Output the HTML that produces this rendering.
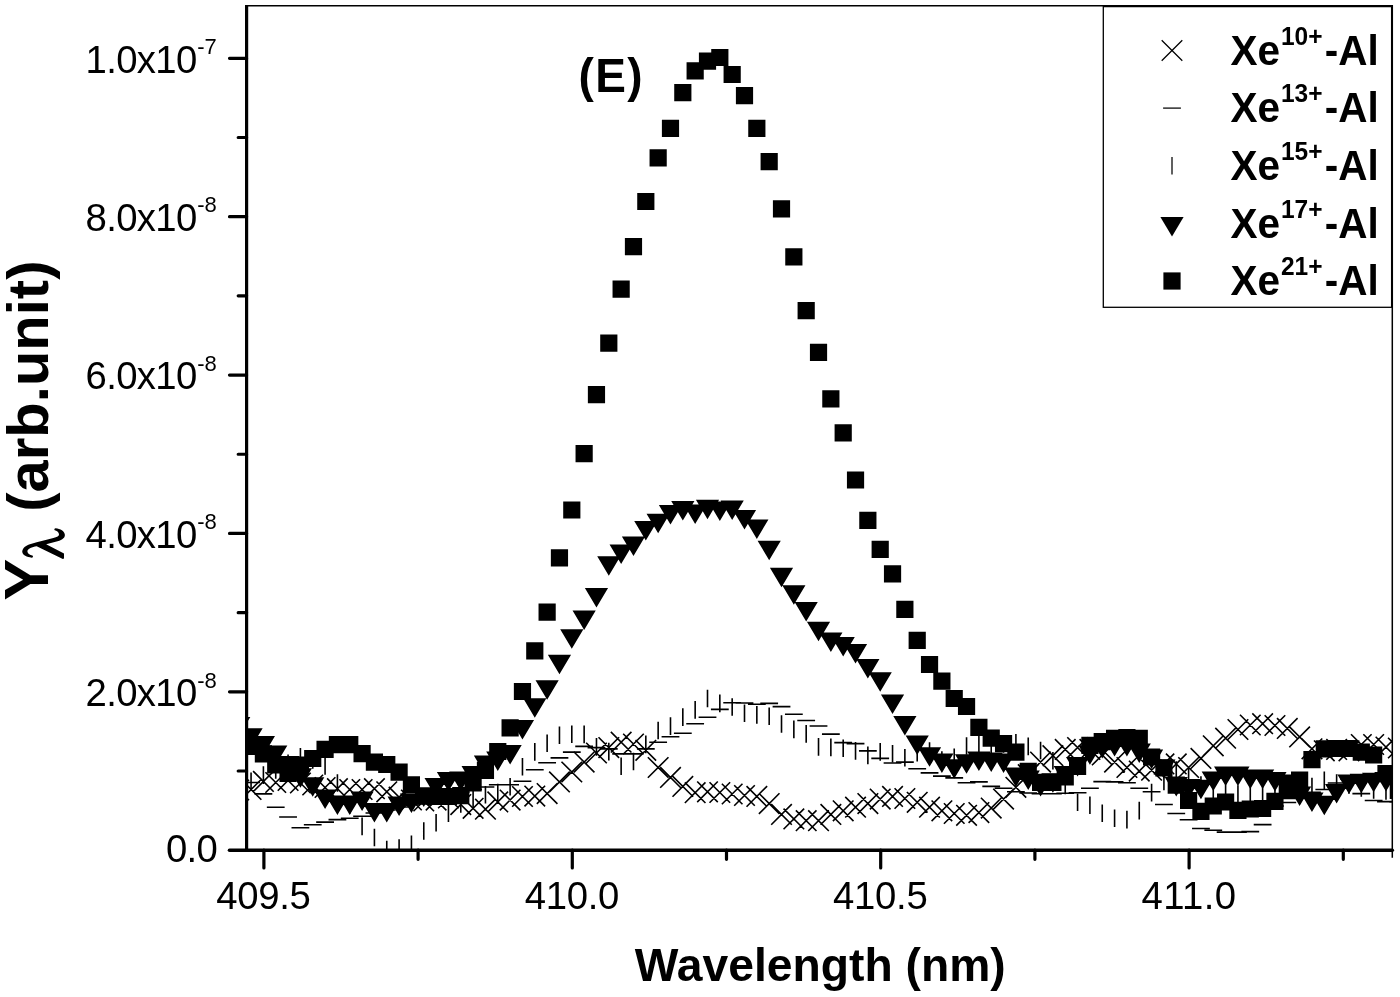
<!DOCTYPE html>
<html><head><meta charset="utf-8"><title>Chart</title>
<style>
html,body{margin:0;padding:0;background:#fff;}
svg{display:block;will-change:transform;}
text{font-family:"Liberation Sans",sans-serif;fill:#000;}
.b{font-weight:bold;}
</style></head><body>
<svg width="1400" height="997" viewBox="0 0 1400 997">
<rect width="1400" height="997" fill="#fff"/>
<defs><clipPath id="cp"><rect x="245.6" y="5.8" width="1147.2" height="844.4"/></clipPath></defs>

<g clip-path="url(#cp)">
<path d="M228.43 779.7L249.03 800.3M228.43 800.3L249.03 779.7M240.76 779.2L261.36 799.8M240.76 799.8L261.36 779.2M253.1 771.1L273.7 791.7M253.1 791.7L273.7 771.1M265.44 772.2L286.04 792.8M265.44 792.8L286.04 772.2M277.77 770.1L298.37 790.7M277.77 790.7L298.37 770.1M290.11 772.7L310.71 793.3M290.11 793.3L310.71 772.7M302.44 774.7L323.04 795.3M302.44 795.3L323.04 774.7M314.78 777.2L335.38 797.8M314.78 797.8L335.38 777.2M327.12 778.4L347.72 799M327.12 799L347.72 778.4M339.45 779.2L360.05 799.8M339.45 799.8L360.05 779.2M351.79 779.2L372.39 799.8M351.79 799.8L372.39 779.2M364.12 778.4L384.72 799M364.12 799L384.72 778.4M376.46 781.5L397.06 802.1M376.46 802.1L397.06 781.5M388.8 786.9L409.4 807.5M388.8 807.5L409.4 786.9M401.13 789.7L421.73 810.3M401.13 810.3L421.73 789.7M413.47 790.7L434.07 811.3M413.47 811.3L434.07 790.7M425.8 789.8L446.4 810.4M425.8 810.4L446.4 789.8M438.14 787.7L458.74 808.3M438.14 808.3L458.74 787.7M450.48 794.3L471.08 814.9M450.48 814.9L471.08 794.3M462.81 798L483.41 818.6M462.81 818.6L483.41 798M475.15 798.9L495.75 819.5M475.15 819.5L495.75 798.9M487.48 791.6L508.08 812.2M487.48 812.2L508.08 791.6M499.82 789.8L520.42 810.4M499.82 810.4L520.42 789.8M512.16 786.2L532.76 806.8M512.16 806.8L532.76 786.2M524.49 785.8L545.09 806.4M524.49 806.4L545.09 785.8M536.83 783.3L557.43 803.9M536.83 803.9L557.43 783.3M549.16 771.6L569.76 792.2M549.16 792.2L569.76 771.6M561.5 761.7L582.1 782.3M561.5 782.3L582.1 761.7M573.84 751.8L594.44 772.4M573.84 772.4L594.44 751.8M586.17 742.7L606.77 763.3M586.17 763.3L606.77 742.7M598.51 737.3L619.11 757.9M598.51 757.9L619.11 737.3M610.84 731.9L631.44 752.5M610.84 752.5L631.44 731.9M623.18 733.7L643.78 754.3M623.18 754.3L643.78 733.7M635.52 740L656.12 760.6M635.52 760.6L656.12 740M647.85 757.2L668.45 777.8M647.85 777.8L668.45 757.2M660.19 767.1L680.79 787.7M660.19 787.7L680.79 767.1M672.52 776.1L693.12 796.7M672.52 796.7L693.12 776.1M684.86 782.4L705.46 803M684.86 803L705.46 782.4M697.2 781.5L717.8 802.1M697.2 802.1L717.8 781.5M709.53 782.2L730.13 802.8M709.53 802.8L730.13 782.2M721.87 783.7L742.47 804.3M721.87 804.3L742.47 783.7M734.2 785.2L754.8 805.8M734.2 805.8L754.8 785.2M746.54 786.1L767.14 806.7M746.54 806.7L767.14 786.1M758.88 793.3L779.48 813.9M758.88 813.9L779.48 793.3M771.21 804.1L791.81 824.7M771.21 824.7L791.81 804.1M783.55 808.6L804.15 829.2M783.55 829.2L804.15 808.6M795.88 810.4L816.48 831M795.88 831L816.48 810.4M808.22 810.4L828.82 831M808.22 831L828.82 810.4M820.56 804.1L841.16 824.7M820.56 824.7L841.16 804.1M832.89 800.5L853.49 821.1M832.89 821.1L853.49 800.5M845.23 796.9L865.83 817.5M845.23 817.5L865.83 796.9M857.56 793.3L878.16 813.9M857.56 813.9L878.16 793.3M869.9 788.8L890.5 809.4M869.9 809.4L890.5 788.8M882.24 786.1L902.84 806.7M882.24 806.7L902.84 786.1M894.57 788.2L915.17 808.8M894.57 808.8L915.17 788.2M906.91 792L927.51 812.6M906.91 812.6L927.51 792M919.24 796.9L939.84 817.5M919.24 817.5L939.84 796.9M931.58 800.5L952.18 821.1M931.58 821.1L952.18 800.5M943.92 803.2L964.52 823.8M943.92 823.8L964.52 803.2M956.25 805L976.85 825.6M956.25 825.6L976.85 805M968.59 802.3L989.19 822.9M968.59 822.9L989.19 802.3M980.92 797.8L1001.52 818.4M980.92 818.4L1001.52 797.8M993.26 788.8L1013.86 809.4M993.26 809.4L1013.86 788.8M1005.6 777L1026.2 797.6M1005.6 797.6L1026.2 777M1017.93 764.4L1038.53 785M1017.93 785L1038.53 764.4M1030.27 751.8L1050.87 772.4M1030.27 772.4L1050.87 751.8M1042.6 745.4L1063.2 766M1042.6 766L1063.2 745.4M1054.94 739.1L1075.54 759.7M1054.94 759.7L1075.54 739.1M1067.28 737.3L1087.88 757.9M1067.28 757.9L1087.88 737.3M1079.61 739.1L1100.21 759.7M1079.61 759.7L1100.21 739.1M1091.95 744.7L1112.55 765.3M1091.95 765.3L1112.55 744.7M1104.28 751.8L1124.88 772.4M1104.28 772.4L1124.88 751.8M1116.62 757.2L1137.22 777.8M1116.62 777.8L1137.22 757.2M1128.96 760.8L1149.56 781.4M1128.96 781.4L1149.56 760.8M1141.29 759.9L1161.89 780.5M1141.29 780.5L1161.89 759.9M1153.63 753.6L1174.23 774.2M1153.63 774.2L1174.23 753.6M1165.96 753.6L1186.56 774.2M1165.96 774.2L1186.56 753.6M1178.3 757.2L1198.9 777.8M1178.3 777.8L1198.9 757.2M1190.64 748.1L1211.24 768.7M1190.64 768.7L1211.24 748.1M1202.97 735.5L1223.57 756.1M1202.97 756.1L1223.57 735.5M1215.31 727.9L1235.91 748.5M1215.31 748.5L1235.91 727.9M1227.64 719.2L1248.24 739.8M1227.64 739.8L1248.24 719.2M1239.98 714.7L1260.58 735.3M1239.98 735.3L1260.58 714.7M1252.32 713.4L1272.92 734M1252.32 734L1272.92 713.4M1264.65 715.2L1285.25 735.8M1264.65 735.8L1285.25 715.2M1276.99 718.1L1297.59 738.7M1276.99 738.7L1297.59 718.1M1289.32 726.6L1309.92 747.2M1289.32 747.2L1309.92 726.6M1301.66 738.5L1322.26 759.1M1301.66 759.1L1322.26 738.5M1314 740.5L1334.6 761.1M1314 761.1L1334.6 740.5M1326.33 739.1L1346.93 759.7M1326.33 759.7L1346.93 739.1M1338.67 740.5L1359.27 761.1M1338.67 761.1L1359.27 740.5M1351 734.2L1371.6 754.8M1351 754.8L1371.6 734.2M1363.34 734.2L1383.94 754.8M1363.34 754.8L1383.94 734.2M1375.68 736.8L1396.28 757.4M1375.68 757.4L1396.28 736.8M1388.01 737.7L1408.61 758.3M1388.01 758.3L1408.61 737.7" stroke="#000" stroke-width="1.6" fill="none"/>
<path d="M229.83 772H247.63M242.16 782.5H259.96M254.5 793.9H272.3M266.84 807.3H284.64M279.17 817H296.97M291.51 827.8H309.31M303.84 824.7H321.64M316.18 822.1H333.98M328.52 819.6H346.32M340.85 818.2H358.65M353.19 816.2H370.99M365.52 813H383.32M377.86 810H395.66M390.2 807H408M402.53 804H420.33M414.87 801H432.67M427.2 798H445M439.54 795H457.34M451.88 792H469.68M464.21 789.5H482.01M476.55 787H494.35M488.88 784.8H506.68M501.22 784.8H519.02M513.56 781.2H531.36M525.89 769.7H543.69M538.23 762.8H556.03M550.56 757.9H568.36M562.9 752.1H580.7M575.24 746.4H593.04M587.57 747.6H605.37M599.91 748.9H617.71M612.24 753.9H630.04M624.58 753.9H642.38M636.92 748.9H654.72M649.25 742.2H667.05M661.59 736.8H679.39M673.92 733.2H691.72M686.26 723.8H704.06M698.6 717.3H716.4M710.93 709.4H728.73M723.27 702.7H741.07M735.6 703H753.4M747.94 704.3H765.74M760.28 703.4H778.08M772.61 706.6H790.41M784.95 714.2H802.75M797.28 720.5H815.08M809.62 726H827.42M821.96 734.1H839.76M834.29 742.6H852.09M846.63 743.6H864.43M858.96 750.9H876.76M871.3 758.4H889.1M883.64 763H901.44M895.97 762.1H913.77M908.31 768.7H926.11M920.64 772.9H938.44M932.98 776.1H950.78M945.32 777.9H963.12M957.65 782.8H975.45M969.99 781.9H987.79M982.32 786.4H1000.12M994.66 788.2H1012.46M1007 791.8H1024.8M1019.33 793H1037.13M1031.67 793.7H1049.47M1044 793.7H1061.8M1056.34 793.3H1074.14M1068.68 792.7H1086.48M1081.01 788.2H1098.81M1093.35 781.6H1111.15M1105.68 781.9H1123.48M1118.02 782.8H1135.82M1130.36 788.2H1148.16M1142.69 791.8H1160.49M1155.03 804.5H1172.83M1167.36 813.5H1185.16M1179.7 819.8H1197.5M1192.04 828.5H1209.84M1204.37 830.3H1222.17M1216.71 832.1H1234.51M1229.04 832.1H1246.84M1241.38 831.6H1259.18M1253.72 824.6H1271.52M1266.05 806H1283.85M1278.39 802.5H1296.19M1290.72 797H1308.52M1303.06 792.3H1320.86M1315.4 789.5H1333.2M1327.73 783H1345.53M1340.07 779H1357.87M1352.4 793.6H1370.2M1364.74 800.5H1382.54M1377.08 801.6H1394.88M1389.41 802H1407.21" stroke="#000" stroke-width="1.6" fill="none"/>
<path d="M251.06 772.6V790.2M263.4 766.3V783.9M275.74 761.2V778.8M288.07 754.4V772M300.41 748.1V765.7M312.74 751.2V768.8M325.08 757.2V774.8M337.42 774.2V791.8M349.75 796.2V813.8M362.09 817.6V835.2M374.42 828.7V846.3M386.76 840.8V858.4M399.1 839.2V856.8M411.43 835.5V853.1M423.77 822.2V839.8M436.1 813.9V831.5M448.44 804.5V822.1M460.78 795.2V812.8M473.11 791V808.6M485.45 785.9V803.5M497.78 783.8V801.4M510.12 777.9V795.5M522.46 758V775.6M534.79 743.1V760.7M547.13 734.4V752M559.46 726.4V744M571.8 725.5V743.1M584.14 725.6V743.2M596.47 738.1V755.7M608.81 742.8V760.4M621.14 757.4V775M633.48 752.7V770.3M645.82 735.6V753.2M658.15 721.7V739.3M670.49 717.3V734.9M682.82 708.3V725.9M695.16 701.1V718.7M707.5 689.7V707.3M719.83 694.6V712.2M732.17 698.2V715.8M744.5 704.5V722.1M756.84 706.1V723.7M769.18 707.4V725M781.51 715.2V732.8M793.85 720.6V738.2M806.18 725.1V742.7M818.52 738.1V755.7M830.86 738.6V756.2M843.19 739.5V757.1M855.53 742.1V759.7M867.86 746.6V764.2M880.2 743.1V760.7M892.54 745V762.6M904.87 748.9V766.5M917.21 743.9V761.5M929.54 742.2V759.8M941.88 751.2V768.8M954.22 748.4V766M966.55 737.2V754.8M978.89 735.7V753.3M991.22 736.2V753.8M1003.56 735.2V752.8M1015.9 733.9V751.5M1028.23 737.6V755.2M1040.57 741.7V759.3M1052.9 752V769.6M1065.24 776.7V794.3M1077.58 793.5V811.1M1089.91 796.4V814M1102.25 804.5V822.1M1114.58 809.4V827M1126.92 810.8V828.4M1139.26 801.8V819.4M1151.59 783.8V801.4M1163.93 772.6V790.2M1176.26 761.2V778.8M1188.6 767.2V784.8M1200.94 776.2V793.8M1213.27 782.2V799.8M1225.61 784.2V801.8M1237.94 785.2V802.8M1250.28 786.2V803.8M1262.62 786.2V803.8M1274.95 785.2V802.8M1287.29 781.2V798.8M1299.62 779.2V796.8M1311.96 777.7V795.3M1324.3 771.5V789.1M1336.63 774.2V791.8M1348.97 776.2V793.8M1361.3 779.2V796.8M1373.64 781.2V798.8M1385.98 782.2V799.8" stroke="#000" stroke-width="1.6" fill="none"/>
<path d="M227.13 716.9H250.33L238.73 736.4ZM239.46 728.3H262.66L251.06 747.8ZM251.8 735.9H275L263.4 755.4ZM264.14 745.5H287.34L275.74 765ZM276.47 756H299.67L288.07 775.5ZM288.81 768.2H312.01L300.41 787.7ZM301.14 777.3H324.34L312.74 796.8ZM313.48 789.5H336.68L325.08 809ZM325.82 795.4H349.02L337.42 814.9ZM338.15 795.4H361.35L349.75 814.9ZM350.49 791.6H373.69L362.09 811.1ZM362.82 802.9H386.02L374.42 822.4ZM375.16 802.9H398.36L386.76 822.4ZM387.5 796.6H410.7L399.1 816.1ZM399.83 793.6H423.03L411.43 813.1ZM412.17 787.5H435.37L423.77 807ZM424.5 777.9H447.7L436.1 797.4ZM436.84 772.1H460.04L448.44 791.6ZM449.18 771.5H472.38L460.78 791ZM461.51 765.9H484.71L473.11 785.4ZM473.85 755.5H497.05L485.45 775ZM486.18 751.4H509.38L497.78 770.9ZM498.52 745H521.72L510.12 764.5ZM510.86 719.9H534.06L522.46 739.4ZM523.19 698.3H546.39L534.79 717.8ZM535.53 680.2H558.73L547.13 699.7ZM547.86 654.8H571.06L559.46 674.3ZM560.2 629.3H583.4L571.8 648.8ZM572.54 610.5H595.74L584.14 630ZM584.87 588H608.07L596.47 607.5ZM597.21 556.3H620.41L608.81 575.8ZM609.54 544.6H632.74L621.14 564.1ZM621.88 536.6H645.08L633.48 556.1ZM634.22 521.1H657.42L645.82 540.6ZM646.55 513.7H669.75L658.15 533.2ZM658.89 505.1H682.09L670.49 524.6ZM671.22 501.1H694.42L682.82 520.6ZM683.56 504.5H706.76L695.16 524ZM695.9 499.7H719.1L707.5 519.2ZM708.23 501.5H731.43L719.83 521ZM720.57 500.5H743.77L732.17 520ZM732.9 510.1H756.1L744.5 529.6ZM745.24 519.5H768.44L756.84 539ZM757.58 540.8H780.78L769.18 560.3ZM769.91 567.7H793.11L781.51 587.2ZM782.25 585.3H805.45L793.85 604.8ZM794.58 602H817.78L806.18 621.5ZM806.92 621.8H830.12L818.52 641.3ZM819.26 632.5H842.46L830.86 652ZM831.59 637.1H854.79L843.19 656.6ZM843.93 644.1H867.13L855.53 663.6ZM856.26 658.9H879.46L867.86 678.4ZM868.6 672.2H891.8L880.2 691.7ZM880.94 694.4H904.14L892.54 713.9ZM893.27 716H916.47L904.87 735.5ZM905.61 735.6H928.81L917.21 755.1ZM917.94 747.3H941.14L929.54 766.8ZM930.28 753.4H953.48L941.88 772.9ZM942.62 759.2H965.82L954.22 778.7ZM954.95 754.3H978.15L966.55 773.8ZM967.29 751.6H990.49L978.89 771.1ZM979.62 752.5H1002.82L991.22 772ZM991.96 753.4H1015.16L1003.56 772.9ZM1004.3 767.5H1027.5L1015.9 787ZM1016.63 770.5H1039.83L1028.23 790ZM1028.97 776.9H1052.17L1040.57 796.4ZM1041.3 773.2H1064.5L1052.9 792.7ZM1053.64 766H1076.84L1065.24 785.5ZM1065.98 757H1089.18L1077.58 776.5ZM1078.31 745.3H1101.51L1089.91 764.8ZM1090.65 739H1113.85L1102.25 758.5ZM1102.98 737H1126.18L1114.58 756.5ZM1115.32 737H1138.52L1126.92 756.5ZM1127.66 743.5H1150.86L1139.26 763ZM1139.99 749.5H1163.19L1151.59 769ZM1152.33 759.4H1175.53L1163.93 778.9ZM1164.66 777H1187.86L1176.26 796.5ZM1177 778.9H1200.2L1188.6 798.4ZM1189.34 779.8H1212.54L1200.94 799.3ZM1201.67 771.5H1224.87L1213.27 791ZM1214.01 766.6H1237.21L1225.61 786.1ZM1226.34 766.6H1249.54L1237.94 786.1ZM1238.68 769.5H1261.88L1250.28 789ZM1251.02 769.5H1274.22L1262.62 789ZM1263.35 771.9H1286.55L1274.95 791.4ZM1275.69 774.6H1298.89L1287.29 794.1ZM1288.02 786.5H1311.22L1299.62 806ZM1300.36 792.4H1323.56L1311.96 811.9ZM1312.7 795.8H1335.9L1324.3 815.3ZM1325.03 783.9H1348.23L1336.63 803.4ZM1337.37 774.5H1360.57L1348.97 794ZM1349.7 773.7H1372.9L1361.3 793.2ZM1362.04 772.8H1385.24L1373.64 792.3ZM1374.38 772H1397.58L1385.98 791.5ZM1386.71 772H1409.91L1398.31 791.5Z" fill="#000"/>
<path d="M242.46 737.7h17.2v17.2h-17.2ZM254.8 745.3h17.2v17.2h-17.2ZM267.14 756.4h17.2v17.2h-17.2ZM279.47 764.8h17.2v17.2h-17.2ZM291.81 756.5h17.2v17.2h-17.2ZM304.14 749.9h17.2v17.2h-17.2ZM316.48 740.8h17.2v17.2h-17.2ZM328.82 736h17.2v17.2h-17.2ZM341.15 736h17.2v17.2h-17.2ZM353.49 745h17.2v17.2h-17.2ZM365.82 753.5h17.2v17.2h-17.2ZM378.16 755.9h17.2v17.2h-17.2ZM390.5 763.6h17.2v17.2h-17.2ZM402.83 776.2h17.2v17.2h-17.2ZM415.17 787.6h17.2v17.2h-17.2ZM427.5 787.9h17.2v17.2h-17.2ZM439.84 787.9h17.2v17.2h-17.2ZM452.18 787h17.2v17.2h-17.2ZM464.51 774.4h17.2v17.2h-17.2ZM476.85 761.7h17.2v17.2h-17.2ZM489.18 742.9h17.2v17.2h-17.2ZM501.52 719.2h17.2v17.2h-17.2ZM513.86 682.9h17.2v17.2h-17.2ZM526.19 642.2h17.2v17.2h-17.2ZM538.53 603.5h17.2v17.2h-17.2ZM550.86 549.3h17.2v17.2h-17.2ZM563.2 501.4h17.2v17.2h-17.2ZM575.54 445.1h17.2v17.2h-17.2ZM587.87 386.1h17.2v17.2h-17.2ZM600.21 334.5h17.2v17.2h-17.2ZM612.54 280.6h17.2v17.2h-17.2ZM624.88 238h17.2v17.2h-17.2ZM637.22 192.9h17.2v17.2h-17.2ZM649.55 149.2h17.2v17.2h-17.2ZM661.89 119.7h17.2v17.2h-17.2ZM674.22 84h17.2v17.2h-17.2ZM686.56 62.3h17.2v17.2h-17.2ZM698.9 52.5h17.2v17.2h-17.2ZM711.23 48.9h17.2v17.2h-17.2ZM723.57 65.9h17.2v17.2h-17.2ZM735.9 87h17.2v17.2h-17.2ZM748.24 119.7h17.2v17.2h-17.2ZM760.58 153h17.2v17.2h-17.2ZM772.91 200.3h17.2v17.2h-17.2ZM785.25 248.2h17.2v17.2h-17.2ZM797.58 302.1h17.2v17.2h-17.2ZM809.92 343.8h17.2v17.2h-17.2ZM822.26 390.2h17.2v17.2h-17.2ZM834.59 424.3h17.2v17.2h-17.2ZM846.93 471.4h17.2v17.2h-17.2ZM859.26 511.8h17.2v17.2h-17.2ZM871.6 540.7h17.2v17.2h-17.2ZM883.94 565.2h17.2v17.2h-17.2ZM896.27 600.7h17.2v17.2h-17.2ZM908.61 631.8h17.2v17.2h-17.2ZM920.94 655.9h17.2v17.2h-17.2ZM933.28 672.6h17.2v17.2h-17.2ZM945.62 689.9h17.2v17.2h-17.2ZM957.95 697.9h17.2v17.2h-17.2ZM970.29 718.8h17.2v17.2h-17.2ZM982.62 729.6h17.2v17.2h-17.2ZM994.96 735h17.2v17.2h-17.2ZM1007.3 743.5h17.2v17.2h-17.2ZM1019.63 762.8h17.2v17.2h-17.2ZM1031.97 773.7h17.2v17.2h-17.2ZM1044.3 773.7h17.2v17.2h-17.2ZM1056.64 768.3h17.2v17.2h-17.2ZM1068.98 757.8h17.2v17.2h-17.2ZM1081.31 736.7h17.2v17.2h-17.2ZM1093.65 733.1h17.2v17.2h-17.2ZM1105.98 729.8h17.2v17.2h-17.2ZM1118.32 729.1h17.2v17.2h-17.2ZM1130.66 729.8h17.2v17.2h-17.2ZM1142.99 748.4h17.2v17.2h-17.2ZM1155.33 759.2h17.2v17.2h-17.2ZM1167.66 776.6h17.2v17.2h-17.2ZM1180 791.9h17.2v17.2h-17.2ZM1192.34 802.7h17.2v17.2h-17.2ZM1204.67 797.4h17.2v17.2h-17.2ZM1217.01 793.4h17.2v17.2h-17.2ZM1229.34 801.7h17.2v17.2h-17.2ZM1241.68 800.4h17.2v17.2h-17.2ZM1254.02 799.9h17.2v17.2h-17.2ZM1266.35 792.8h17.2v17.2h-17.2ZM1278.69 782h17.2v17.2h-17.2ZM1291.02 771.4h17.2v17.2h-17.2ZM1303.36 751.1h17.2v17.2h-17.2ZM1315.7 740.2h17.2v17.2h-17.2ZM1328.03 739.9h17.2v17.2h-17.2ZM1340.37 739.9h17.2v17.2h-17.2ZM1352.7 743.6h17.2v17.2h-17.2ZM1365.04 746.4h17.2v17.2h-17.2ZM1377.38 765.1h17.2v17.2h-17.2ZM1389.71 781.8h17.2v17.2h-17.2Z" fill="#000"/>
</g>
<g stroke="#000" fill="none" stroke-linecap="round">
<path d="M246.6 5.8H1392.3V857.7" stroke-width="1.5" stroke-linecap="butt"/>
<path d="M246.6 5.1V850.2" stroke-width="3.2" stroke-linecap="butt"/>
<path d="M229.5 850.2H1392.3" stroke-width="3.6"/>
<path d="M238.2 771.01H246.6M229.5 691.82H246.6M238.2 612.63H246.6M229.5 533.44H246.6M238.2 454.25H246.6M229.5 375.06H246.6M238.2 295.87H246.6M229.5 216.68H246.6M238.2 137.49H246.6M229.5 58.3H246.6" stroke-width="3.2"/>
<path d="M263.9 850.2V868M418.1 850.2V859.3M572.3 850.2V868M726.5 850.2V859.3M880.7 850.2V868M1034.9 850.2V859.3M1189.1 850.2V868M1343.3 850.2V859.3" stroke-width="3.2"/>
</g>
<text x="197.3" y="72.7" font-size="38.3" text-anchor="end" textLength="111.8" lengthAdjust="spacing">1.0x10</text>
<text x="197.2" y="54" font-size="22">-7</text>
<text x="197.3" y="231.08" font-size="38.3" text-anchor="end" textLength="111.8" lengthAdjust="spacing">8.0x10</text>
<text x="197.2" y="212.38" font-size="22">-8</text>
<text x="197.3" y="389.46" font-size="38.3" text-anchor="end" textLength="111.8" lengthAdjust="spacing">6.0x10</text>
<text x="197.2" y="370.76" font-size="22">-8</text>
<text x="197.3" y="547.84" font-size="38.3" text-anchor="end" textLength="111.8" lengthAdjust="spacing">4.0x10</text>
<text x="197.2" y="529.14" font-size="22">-8</text>
<text x="197.3" y="706.22" font-size="38.3" text-anchor="end" textLength="111.8" lengthAdjust="spacing">2.0x10</text>
<text x="197.2" y="687.52" font-size="22">-8</text>
<text x="217.7" y="862.2" font-size="38.3" text-anchor="end" textLength="51.6" lengthAdjust="spacing">0.0</text>
<text x="263.6" y="909" font-size="38.3" text-anchor="middle" textLength="94.6" lengthAdjust="spacing">409.5</text>
<text x="572" y="909" font-size="38.3" text-anchor="middle" textLength="94.6" lengthAdjust="spacing">410.0</text>
<text x="880.4" y="909" font-size="38.3" text-anchor="middle" textLength="94.6" lengthAdjust="spacing">410.5</text>
<text x="1188.8" y="909" font-size="38.3" text-anchor="middle" textLength="94.6" lengthAdjust="spacing">411.0</text>
<text class="b" x="820.3" y="981" font-size="46.25" text-anchor="middle">Wavelength (nm)</text>
<g transform="translate(47.7 598.8) rotate(-90)"><text class="b" x="-1.6" y="0" font-size="62.5">Y</text><text class="b" x="87" y="0" font-size="58">(arb.unit)</text></g>
<path transform="translate(15 520) scale(0.04515)" d="M160 700C165 620 240 560 330 535L480 495L700 440L850 400C930 378 980 350 975 315C970 265 920 235 880 225C862 215 870 185 900 180C1000 185 1105 250 1105 330C1105 410 1020 450 900 480L690 535L1085 740L1085 850L1060 865L480 580C380 595 280 630 275 690C275 745 330 770 385 785C410 795 400 835 370 835C270 825 160 780 160 700Z" fill="#000"/>
<text class="b" transform="translate(578.6 91.9) scale(1 1.045)" x="0" y="0" font-size="46" letter-spacing="1.3">(E)</text>
<rect x="1103.3" y="6.6" width="288.3" height="300.7" fill="#fff" stroke="#000" stroke-width="1.3"/>
<g transform="translate(0 64.7) scale(1 1.04)"><text class="b" x="1230.6" y="0" font-size="40.5">Xe</text><text class="b" x="1280.9" y="-19.2" font-size="24.5">10+</text><text class="b" x="1324.7" y="0" font-size="40.5">-Al</text></g>
<g transform="translate(0 122.3) scale(1 1.04)"><text class="b" x="1230.6" y="0" font-size="40.5">Xe</text><text class="b" x="1280.9" y="-19.2" font-size="24.5">13+</text><text class="b" x="1324.7" y="0" font-size="40.5">-Al</text></g>
<g transform="translate(0 179.9) scale(1 1.04)"><text class="b" x="1230.6" y="0" font-size="40.5">Xe</text><text class="b" x="1280.9" y="-19.2" font-size="24.5">15+</text><text class="b" x="1324.7" y="0" font-size="40.5">-Al</text></g>
<g transform="translate(0 237.5) scale(1 1.04)"><text class="b" x="1230.6" y="0" font-size="40.5">Xe</text><text class="b" x="1280.9" y="-19.2" font-size="24.5">17+</text><text class="b" x="1324.7" y="0" font-size="40.5">-Al</text></g>
<g transform="translate(0 295.1) scale(1 1.04)"><text class="b" x="1230.6" y="0" font-size="40.5">Xe</text><text class="b" x="1280.9" y="-19.2" font-size="24.5">21+</text><text class="b" x="1324.7" y="0" font-size="40.5">-Al</text></g>
<path d="M1161.7 40.2L1182.3 60.8M1161.7 60.8L1182.3 40.2" stroke="#000" stroke-width="1.25"/>
<path d="M1163.1 108.1H1180.9" stroke="#000" stroke-width="1.25"/>
<path d="M1172 156.9V174.5" stroke="#000" stroke-width="1.25"/>
<path d="M1160.4 217.1H1183.6L1172 236.6Z" fill="#000"/>
<rect x="1163.4" y="272.4" width="17.2" height="17.2" fill="#000"/>
</svg></body></html>
